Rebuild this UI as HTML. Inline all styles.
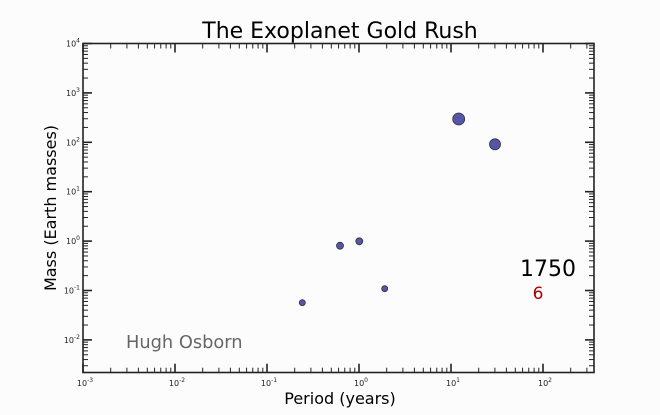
<!DOCTYPE html>
<html><head><meta charset="utf-8"><style>
html,body{margin:0;padding:0;background:#fcfcfc;}
svg{display:block;font-family:"DejaVu Sans","Liberation Sans",sans-serif;}
</style></head><body>
<svg id="s" width="660" height="415" xmlns="http://www.w3.org/2000/svg">
<rect width="660" height="415" fill="#fcfcfc"/>
<text x="340" y="38" font-size="22" text-anchor="middle" fill="#000">The Exoplanet Gold Rush</text>
<text x="340" y="404" font-size="16" text-anchor="middle" fill="#000">Period (years)</text>
<text transform="translate(56,208) rotate(-90)" font-size="16" text-anchor="middle" fill="#000">Mass (Earth masses)</text>
<g id="ticks" stroke="#222" stroke-width="1"></g>
<g id="labels" font-size="8" fill="#222"></g>
<rect x="83" y="43.5" width="511" height="329" fill="none" stroke="#222" stroke-width="1.6"/>
<g fill="#5555aa" stroke="#333" stroke-width="0.8">
<circle cx="458.7" cy="119" r="6"/>
<circle cx="495" cy="144.3" r="5.5"/>
<circle cx="340" cy="245.7" r="3.5"/>
<circle cx="359.3" cy="241.3" r="3.5"/>
<circle cx="384.7" cy="288.7" r="3"/>
<circle cx="302.3" cy="302.7" r="3"/>
</g>
<text x="126" y="348" font-size="17.8" fill="#666">Hugh Osborn</text>
<text x="548" y="276" font-size="22" text-anchor="middle" fill="#000">1750</text>
<text x="538" y="299" font-size="17" text-anchor="middle" fill="#aa0000">6</text>
</svg>
<script>
var T=document.getElementById('ticks'),L=document.getElementById('labels');
var X0=83,X1=594,Y0=43.5,Y1=372.7,dx=92,dy=49.4;
function ln(a,b,c,d,w){var e=document.createElementNS('http://www.w3.org/2000/svg','line');e.setAttribute('x1',a);e.setAttribute('y1',b);e.setAttribute('x2',c);e.setAttribute('y2',d);if(w)e.setAttribute('stroke-width',w);T.appendChild(e);}
function lab(x,y,p,anc){var t=document.createElementNS('http://www.w3.org/2000/svg','text');t.setAttribute('x',x);t.setAttribute('y',y);t.setAttribute('text-anchor',anc);t.innerHTML='10<tspan font-size="6" dy="-4">'+p+'</tspan>';L.appendChild(t);}
for(var d=-3;d<=2;d++){for(var k=1;k<10;k++){var x=X0+(d+3)*dx+Math.log10(k)*dx;if(x>X1)break;var len=k==1?9:5;ln(x,Y1,x,Y1-len,k==1?1.6:1);ln(x,Y0,x,Y0+len,k==1?1.6:1);}
lab(X0+(d+3)*dx+2,386,d,'middle');}
for(var d=-3;d<=4;d++){for(var k=1;k<10;k++){var y=Y0+(4-d)*dy-Math.log10(k)*dy;if(y>Y1||y<Y0-0.1)continue;var len=k==1?9:5;ln(X0,y,X0+len,y,k==1?1.6:1);ln(X1,y,X1-len,y,k==1?1.6:1);}
if(d>=-2)lab(80,Y0+(4-d)*dy+3,d,'end');}
</script>
</body></html>
